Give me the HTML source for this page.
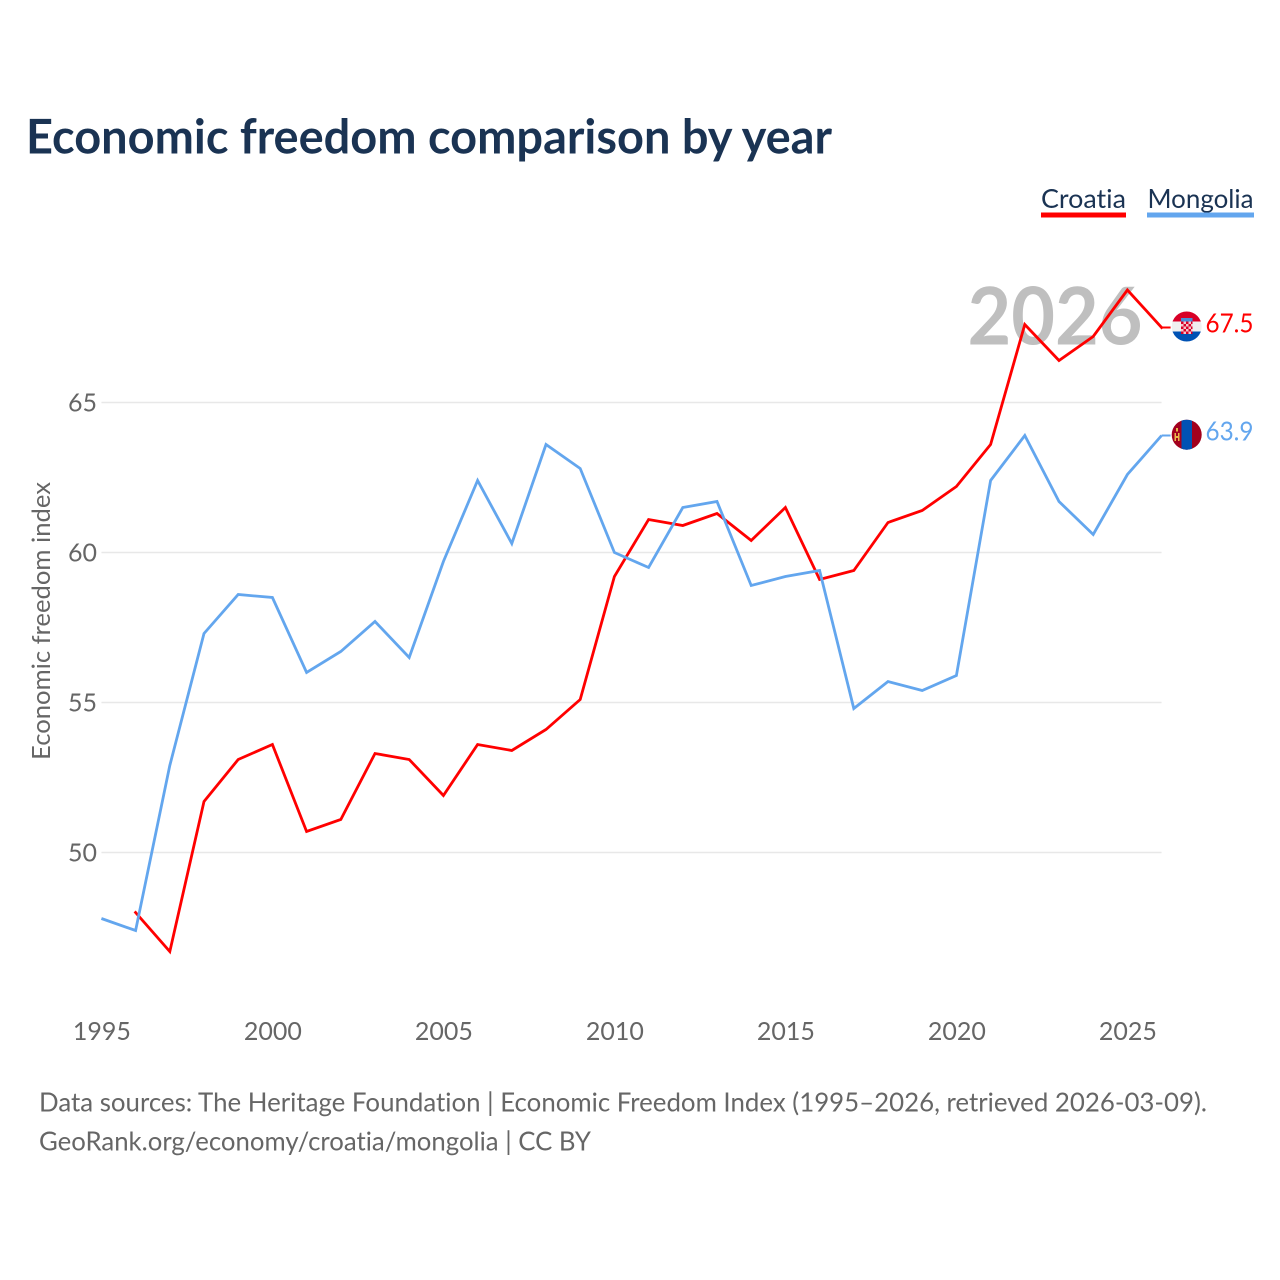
<!DOCTYPE html>
<html lang="en">
<head>
<meta charset="utf-8">
<title>Economic freedom comparison by year</title>
<style>
html,body{margin:0;padding:0;background:#fff;width:1280px;height:1280px;overflow:hidden}
svg{display:block}
text{font-family:"Lato","Carlito","Liberation Sans",sans-serif;font-variant-ligatures:none}
</style>
</head>
<body>
<svg id="chart" width="1280" height="1280" viewBox="0 0 1280 1280" xmlns="http://www.w3.org/2000/svg">
  <defs>
    <clipPath id="hr-clip"><circle cx="1186.7" cy="326.5" r="15"/></clipPath>
    <clipPath id="mn-clip"><circle cx="1186.7" cy="434.7" r="15"/></clipPath>
  </defs>
  <rect width="1280" height="1280" fill="#fff"/>
  <text x="26" y="153.500" font-size="48" font-weight="700" fill="#1a3353" textLength="806" lengthAdjust="spacingAndGlyphs">Economic freedom comparison by year</text>

  <g>
    <text x="1041" y="208" font-size="26.500" fill="#1a3353" textLength="85" lengthAdjust="spacingAndGlyphs">Croatia</text>
    <rect x="1041" y="212.500" width="85" height="5" fill="#ff0000"/>
    <text x="1147.500" y="208" font-size="26.500" fill="#1a3353" textLength="106" lengthAdjust="spacingAndGlyphs">Mongolia</text>
    <rect x="1147" y="212.500" width="107" height="5" fill="#63a6ee"/>
  </g>

  <g id="grid"></g>
  <g id="yticks"></g>
  <g id="xticks"></g>
  <text transform="translate(50,621) rotate(-90)" text-anchor="middle" font-size="25" fill="#666" textLength="278" lengthAdjust="spacingAndGlyphs">Economic freedom index</text>
  <text x="967.500" y="344.500" font-size="80" font-weight="700" fill="#bfbfbf" textLength="175" lengthAdjust="spacingAndGlyphs">2026</text>

  <g id="series"></g>

  <g clip-path="url(#hr-clip)">
    <rect x="1171" y="311" width="32" height="10.500" fill="#d80027"/>
    <rect x="1171" y="321.500" width="32" height="10" fill="#f0f0f0"/>
    <rect x="1171" y="331.500" width="32" height="11" fill="#0052b4"/>
    <rect x="1181" y="321.500" width="11.500" height="12.500" fill="#f4c6cc"/>
    <path d="M1181 321.500h2.500v2.500h-2.500zM1186 321.500h2.500v2.500h-2.500zM1191 321.500h1.500v2.500h-1.500zM1183.500 324h2.500v2.500h-2.500zM1188.500 324h2.500v2.500h-2.500zM1181 326.500h2.500v2.500h-2.500zM1186 326.500h2.500v2.500h-2.500zM1191 326.500h1.500v2.500h-1.500zM1183.500 329h2.500v2.500h-2.500zM1188.500 329h2.500v2.500h-2.500zM1181 331.500h2.500v2.500h-2.500zM1186 331.500h2.500v2.500h-2.500zM1191 331.500h1.500v2.500h-1.500z" fill="#d80027"/>
    <rect x="1181" y="318" width="11.500" height="3.500" fill="#4a8fd8"/>
  </g>
  <g clip-path="url(#mn-clip)">
    <rect x="1171" y="419" width="32" height="32" fill="#a2001d"/>
    <rect x="1181.500" y="419" width="10.500" height="32" fill="#0052b4"/>
    <rect x="1174.500" y="433" width="1.500" height="8" fill="#e8b84a"/>
    <rect x="1178" y="433" width="1.500" height="8" fill="#e8b84a"/>
    <rect x="1175.500" y="436" width="3" height="2" fill="#e8b84a"/>
    <rect x="1176" y="428" width="2" height="3.500" fill="#e8b84a"/>
  </g>
  <text id="value-hr" x="1205.500" y="332.500" font-size="26" fill="#ff0000" textLength="48" lengthAdjust="spacingAndGlyphs"></text>
  <text id="value-mn" x="1205.500" y="440.500" font-size="26" fill="#63a6ee" textLength="48" lengthAdjust="spacingAndGlyphs"></text>

  <text x="39" y="1111.500" font-size="26" fill="#666" textLength="1168" lengthAdjust="spacingAndGlyphs">Data sources: The Heritage Foundation | Economic Freedom Index (1995–2026, retrieved 2026-03-09).</text>
  <text x="39" y="1150.500" font-size="26" fill="#666" textLength="552" lengthAdjust="spacingAndGlyphs">GeoRank.org/economy/croatia/mongolia | CC BY</text>
</svg>
<script>
const years = [1995,1996,1997,1998,1999,2000,2001,2002,2003,2004,2005,2006,2007,2008,2009,2010,2011,2012,2013,2014,2015,2016,2017,2018,2019,2020,2021,2022,2023,2024,2025,2026];
const croatia = [null,48.0,46.7,51.7,53.1,53.6,50.7,51.1,53.3,53.1,51.9,53.6,53.4,54.1,55.1,59.2,61.1,60.9,61.3,60.4,61.5,59.1,59.4,61.0,61.4,62.2,63.6,67.6,66.4,67.2,68.75,67.5];
const mongolia = [47.8,47.4,52.9,57.3,58.6,58.5,56.0,56.7,57.7,56.5,59.7,62.4,60.3,63.6,62.8,60.0,59.5,61.5,61.7,58.9,59.2,59.4,54.8,55.7,55.4,55.9,62.4,63.9,61.7,60.6,62.6,63.9];
const yTicks = [50,55,60,65];
const xTicks = [1995,2000,2005,2010,2015,2020,2025];

const NS = 'http://www.w3.org/2000/svg';
function xScale(year){ return 101.4 + (year - 1995) * 34.2; }
function yScale(value){ return 402.5 + (65 - value) * 30; }

const gridGroup = document.getElementById('grid');
const yTickGroup = document.getElementById('yticks');
const xTickGroup = document.getElementById('xticks');
const seriesGroup = document.getElementById('series');

yTicks.forEach(function(tick){
  const line = document.createElementNS(NS, 'line');
  
  
  line.setAttribute('x1', xScale(1995));
  line.setAttribute('x2', xScale(2026));
  line.setAttribute('y1', yScale(tick));
  line.setAttribute('y2', yScale(tick));
  line.setAttribute('stroke', '#e8e8e8');
  line.setAttribute('stroke-width', '1.5');
  gridGroup.appendChild(line);

  const label = document.createElementNS(NS, 'text');
  
  
  label.setAttribute('x', 97);
  label.setAttribute('y', yScale(tick) + 9);
  label.setAttribute('text-anchor', 'end');
  label.setAttribute('font-size', '25');
  label.setAttribute('fill', '#666');
  label.textContent = tick;
  yTickGroup.appendChild(label);
});

xTicks.forEach(function(tick){
  const label = document.createElementNS(NS, 'text');
  
  
  label.setAttribute('x', xScale(tick) + 0.5);
  label.setAttribute('y', 1040);
  label.setAttribute('text-anchor', 'middle');
  label.setAttribute('font-size', '25');
  label.setAttribute('fill', '#666');
  label.textContent = tick;
  xTickGroup.appendChild(label);
});

function buildPath(values){
  let d = '';
  values.forEach(function(value, i){
    if (value === null) return;
    d += (d ? 'L' : 'M') + xScale(years[i]).toFixed(1) + ' ' + yScale(value).toFixed(1);
  });
  return d;
}

const lastIndex = years.length - 1;

const croatiaLine = document.createElementNS(NS, 'path');


croatiaLine.setAttribute('d', buildPath(croatia));
croatiaLine.setAttribute('fill', 'none');
croatiaLine.setAttribute('stroke', '#ff0000');
croatiaLine.setAttribute('stroke-width', '2.8');
croatiaLine.setAttribute('stroke-linecap', 'square');
seriesGroup.appendChild(croatiaLine);

const croatiaLeader = document.createElementNS(NS, 'line');


croatiaLeader.setAttribute('x1', xScale(years[lastIndex]));
croatiaLeader.setAttribute('x2', xScale(years[lastIndex]) + 9);
croatiaLeader.setAttribute('y1', yScale(croatia[lastIndex]));
croatiaLeader.setAttribute('y2', yScale(croatia[lastIndex]));
croatiaLeader.setAttribute('stroke', '#ff0000');
croatiaLeader.setAttribute('stroke-width', '2');
seriesGroup.appendChild(croatiaLeader);

const mongoliaLine = document.createElementNS(NS, 'path');


mongoliaLine.setAttribute('d', buildPath(mongolia));
mongoliaLine.setAttribute('fill', 'none');
mongoliaLine.setAttribute('stroke', '#63a6ee');
mongoliaLine.setAttribute('stroke-width', '2.8');
seriesGroup.appendChild(mongoliaLine);

const mongoliaLeader = document.createElementNS(NS, 'line');


mongoliaLeader.setAttribute('x1', xScale(years[lastIndex]));
mongoliaLeader.setAttribute('x2', xScale(years[lastIndex]) + 9);
mongoliaLeader.setAttribute('y1', yScale(mongolia[lastIndex]));
mongoliaLeader.setAttribute('y2', yScale(mongolia[lastIndex]));
mongoliaLeader.setAttribute('stroke', '#63a6ee');
mongoliaLeader.setAttribute('stroke-width', '2');
seriesGroup.appendChild(mongoliaLeader);

document.getElementById('value-hr').textContent = croatia[lastIndex].toFixed(1);
document.getElementById('value-mn').textContent = mongolia[lastIndex].toFixed(1);
</script>
</body>
</html>
